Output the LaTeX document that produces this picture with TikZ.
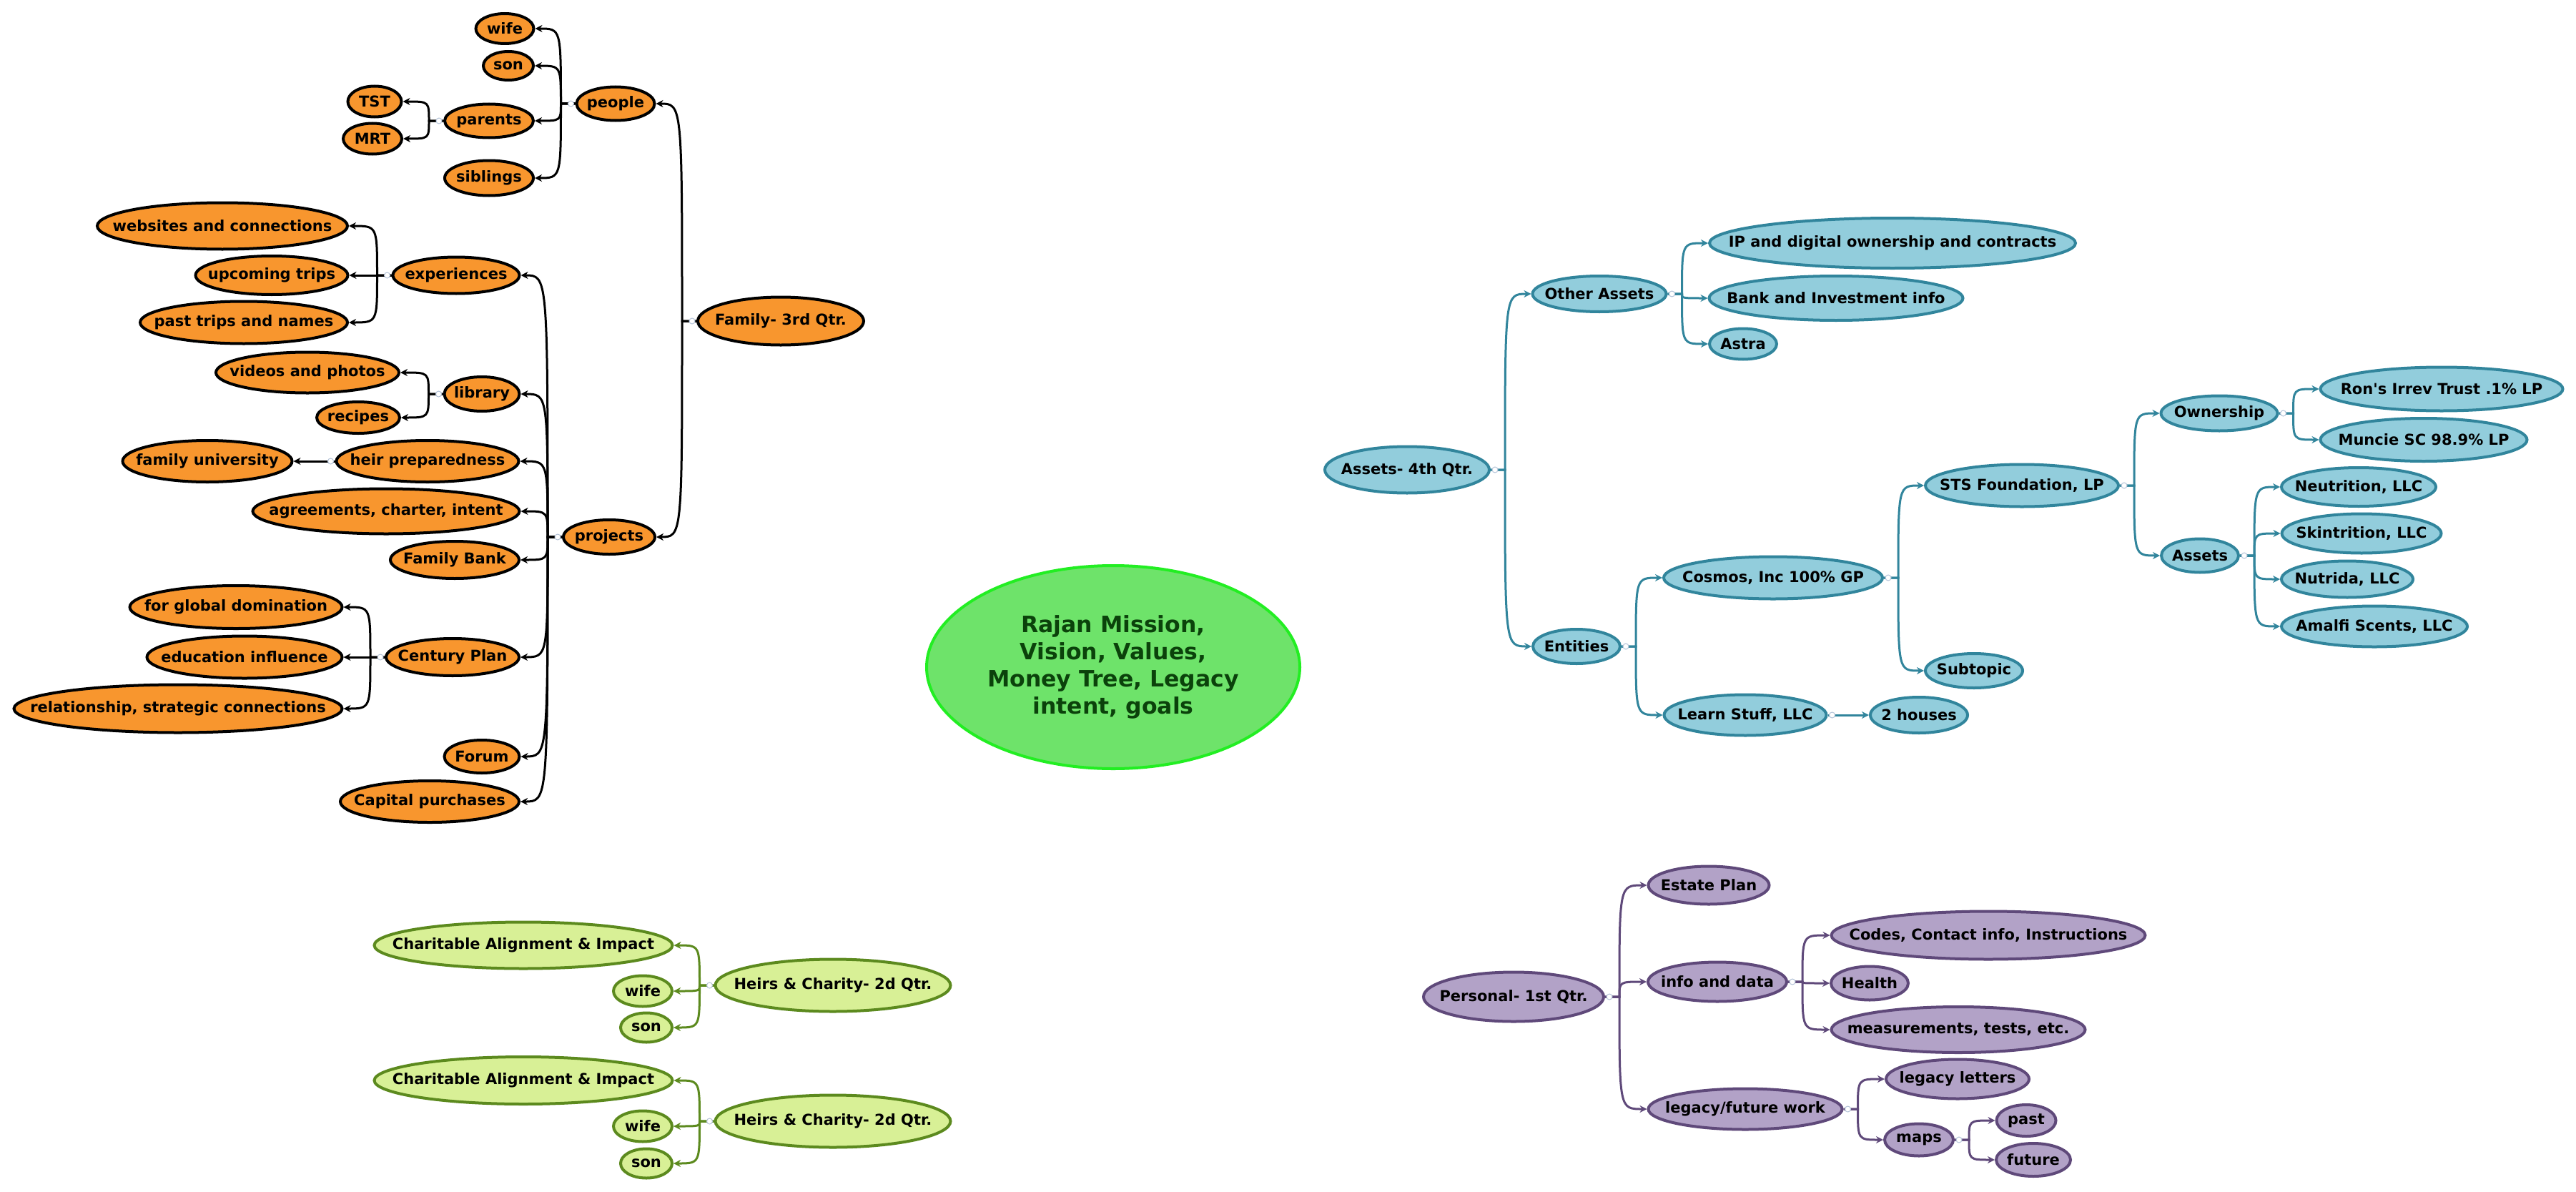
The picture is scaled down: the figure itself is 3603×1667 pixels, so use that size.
\documentclass[tikz,border=0pt]{standalone}
\usepackage{fontspec}
\setmainfont{DejaVu Sans}
\usetikzlibrary{shapes.geometric,arrows.meta}
\definecolor{orfill}{HTML}{F8962E}
\definecolor{blfill}{HTML}{92CDDC}
\definecolor{blline}{HTML}{31859C}
\definecolor{grfill}{HTML}{D8F096}
\definecolor{grline}{HTML}{5C8A1E}
\definecolor{pufill}{HTML}{B2A2C7}
\definecolor{puline}{HTML}{5F497A}
\definecolor{cefill}{HTML}{6EE36A}
\definecolor{celine}{HTML}{22EE22}
\definecolor{cetext}{HTML}{0B420B}
\definecolor{mkline}{HTML}{B4C3D8}
\tikzset{
 topic/.style={shape=ellipse, inner xsep=-400pt, inner ysep=-60pt, line width=4pt,
   font=\fontsize{21}{25}\selectfont\bfseries, text=black},
 orangebox/.style={topic, draw=black, fill=orfill},
 bluebox/.style={topic, draw=blline, fill=blfill},
 greenbox/.style={topic, draw=grline, fill=grfill},
 purplebox/.style={topic, draw=puline, fill=pufill},
 centerbox/.style={shape=ellipse, inner xsep=-400pt, inner ysep=-100pt, line width=4pt,
   draw=celine, fill=cefill, text=cetext, align=center,
   font=\fontsize{31.5}{38}\selectfont\bfseries},
 conn/.style={line width=3pt, -{Stealth[length=10pt,width=10pt]}},
 blackconn/.style={conn, draw=black},
 blueconn/.style={conn, draw=blline},
 greenconn/.style={conn, draw=grline},
 purpleconn/.style={conn, draw=puline},
 collapser/.style={draw=mkline, fill=white, line width=1pt},
}
% node: style, name, position, width, height, text
\newcommand\tp[6]{\node[#1,minimum width=#4pt-4pt,minimum height=#5pt-4pt] (#2) at (#3) {#6};}
% connector towards the left: style, parent, child
\newcommand\lnL[3]{\draw[#1] (#2.west) -- ++(-20pt,0pt) coordinate (sp)
  .. controls (sp |- #3.east) and (sp |- #3.east) .. (#3.east);}
% connector towards the right
\newcommand\lnR[3]{\draw[#1] (#2.east) -- ++(20pt,0pt) coordinate (sp)
  .. controls (sp |- #3.west) and (sp |- #3.west) .. (#3.west);}
\newcommand\mkL[1]{\draw[collapser] ([xshift=-6pt]#1.west) circle[radius=4pt];}
\newcommand\mkR[1]{\draw[collapser] ([xshift=6pt]#1.east) circle[radius=4pt];}
\begin{document}
\begin{tikzpicture}[x=1pt,y=-1pt]
\fill[white] (0,0) rectangle (3603,1667);
\useasboundingbox (0,0) rectangle (3603,1667);

% ---------- centre ----------
\tp{centerbox}{center}{1557,933}{526}{288}{Rajan Mission,\\Vision, Values,\\Money Tree, Legacy\\intent, goals}

% ---------- Family (orange) ----------
\tp{orangebox}{fam}{1092,449}{236}{71}{Family- 3rd Qtr.}
\tp{orangebox}{people}{861,145}{113}{51}{people}
\tp{orangebox}{wifeA}{706,40}{85}{46}{wife}
\tp{orangebox}{sonA}{711,92}{74}{44}{son}
\tp{orangebox}{parents}{684,169}{128}{51}{parents}
\tp{orangebox}{siblings}{684,249}{128}{53}{siblings}
\tp{orangebox}{tst}{524,142}{79}{47}{TST}
\tp{orangebox}{mrt}{521,194}{86}{47}{MRT}
\tp{orangebox}{projects}{852,751}{132}{52}{projects}
\tp{orangebox}{exper}{638,385}{181}{55}{experiences}
\tp{orangebox}{websites}{311,316}{354}{69}{websites and connections}
\tp{orangebox}{upcoming}{380,385}{217}{58}{upcoming trips}
\tp{orangebox}{pasttrips}{341,451}{294}{63}{past trips and names}
\tp{orangebox}{library}{674,551}{109}{52}{library}
\tp{orangebox}{videos}{430,521}{260}{61}{videos and photos}
\tp{orangebox}{recipes}{501,584}{120}{48}{recipes}
\tp{orangebox}{heirprep}{598,645}{259}{62}{heir preparedness}
\tp{orangebox}{famuniv}{290,645}{241}{62}{family university}
\tp{orangebox}{agree}{540,715}{377}{67}{agreements, charter, intent}
\tp{orangebox}{fambank}{636,783}{184}{56}{Family Bank}
\tp{orangebox}{century}{633,919}{190}{56}{Century Plan}
\tp{orangebox}{global}{330,849}{301}{64}{for global domination}
\tp{orangebox}{educ}{342,919}{277}{63}{education influence}
\tp{orangebox}{relation}{249,991}{463}{71}{relationship, strategic connections}
\tp{orangebox}{forum}{674,1058}{109}{50}{Forum}
\tp{orangebox}{capital}{601,1121}{254}{62}{Capital purchases}

\lnL{blackconn}{fam}{people}
\lnL{blackconn}{fam}{projects}
\lnL{blackconn}{people}{wifeA}
\lnL{blackconn}{people}{sonA}
\lnL{blackconn}{people}{parents}
\lnL{blackconn}{people}{siblings}
\lnL{blackconn}{parents}{tst}
\lnL{blackconn}{parents}{mrt}
\lnL{blackconn}{projects}{exper}
\lnL{blackconn}{projects}{library}
\lnL{blackconn}{projects}{heirprep}
\lnL{blackconn}{projects}{agree}
\lnL{blackconn}{projects}{fambank}
\lnL{blackconn}{projects}{century}
\lnL{blackconn}{projects}{forum}
\lnL{blackconn}{projects}{capital}
\lnL{blackconn}{exper}{websites}
\lnL{blackconn}{exper}{upcoming}
\lnL{blackconn}{exper}{pasttrips}
\lnL{blackconn}{library}{videos}
\lnL{blackconn}{library}{recipes}
\lnL{blackconn}{heirprep}{famuniv}
\lnL{blackconn}{century}{global}
\lnL{blackconn}{century}{educ}
\lnL{blackconn}{century}{relation}
\mkL{fam}\mkL{people}\mkL{parents}\mkL{projects}\mkL{exper}\mkL{library}\mkL{heirprep}\mkL{century}

% ---------- Assets (blue) ----------
\tp{bluebox}{assets4}{1968,657}{234}{69}{Assets- 4th Qtr.}
\tp{bluebox}{other}{2237,411}{191}{54}{Other Assets}
\tp{bluebox}{ip}{2647,340}{516}{74}{IP and digital ownership and contracts}
\tp{bluebox}{bank}{2568,417}{359}{66}{Bank and Investment info}
\tp{bluebox}{astra}{2438,481}{98}{47}{Astra}
\tp{bluebox}{entities}{2205,904}{126}{52}{Entities}
\tp{bluebox}{cosmos}{2480,808}{310}{63}{Cosmos, Inc 100\% GP}
\tp{bluebox}{learn}{2441,1000}{231}{61}{Learn Stuff, LLC}
\tp{bluebox}{houses}{2684,1000}{140}{54}{2 houses}
\tp{bluebox}{sts}{2828,679}{274}{63}{STS Foundation, LP}
\tp{bluebox}{subtopic}{2761,938}{140}{52}{Subtopic}
\tp{bluebox}{ownership}{3104,578}{167}{53}{Ownership}
\tp{bluebox}{assetsB}{3077,777}{112}{51}{Assets}
\tp{bluebox}{rons}{3415,544}{343}{65}{Ron\textquotesingle s Irrev Trust .1\% LP}
\tp{bluebox}{muncie}{3390,615}{293}{64}{Muncie SC 98.9\% LP}
\tp{bluebox}{neut}{3299,681}{220}{58}{Neutrition, LLC}
\tp{bluebox}{skin}{3303,746}{227}{59}{Skintrition, LLC}
\tp{bluebox}{nutrida}{3283,810}{188}{55}{Nutrida, LLC}
\tp{bluebox}{amalfi}{3321,876}{264}{61}{Amalfi Scents, LLC}

\lnR{blueconn}{assets4}{other}
\lnR{blueconn}{assets4}{entities}
\lnR{blueconn}{other}{ip}
\lnR{blueconn}{other}{bank}
\lnR{blueconn}{other}{astra}
\lnR{blueconn}{entities}{cosmos}
\lnR{blueconn}{entities}{learn}
\lnR{blueconn}{cosmos}{sts}
\lnR{blueconn}{cosmos}{subtopic}
\lnR{blueconn}{learn}{houses}
\lnR{blueconn}{sts}{ownership}
\lnR{blueconn}{sts}{assetsB}
\lnR{blueconn}{ownership}{rons}
\lnR{blueconn}{ownership}{muncie}
\lnR{blueconn}{assetsB}{neut}
\lnR{blueconn}{assetsB}{skin}
\lnR{blueconn}{assetsB}{nutrida}
\lnR{blueconn}{assetsB}{amalfi}
\mkR{assets4}\mkR{other}\mkR{entities}\mkR{cosmos}\mkR{learn}\mkR{sts}\mkR{ownership}\mkR{assetsB}

% ---------- Heirs & Charity (green) ----------
\tp{greenbox}{heirsA}{1165,1378}{333}{77}{Heirs \& Charity- 2d Qtr.}
\tp{greenbox}{charA}{732,1322}{421}{69}{Charitable Alignment \& Impact}
\tp{greenbox}{wifeG1}{899,1386}{86}{47}{wife}
\tp{greenbox}{sonG1}{904,1437}{76}{45}{son}
\tp{greenbox}{heirsB}{1165,1568}{333}{77}{Heirs \& Charity- 2d Qtr.}
\tp{greenbox}{charB}{732,1511}{421}{70}{Charitable Alignment \& Impact}
\tp{greenbox}{wifeG2}{899,1575}{86}{47}{wife}
\tp{greenbox}{sonG2}{904,1627}{76}{45}{son}

\lnL{greenconn}{heirsA}{charA}
\lnL{greenconn}{heirsA}{wifeG1}
\lnL{greenconn}{heirsA}{sonG1}
\lnL{greenconn}{heirsB}{charB}
\lnL{greenconn}{heirsB}{wifeG2}
\lnL{greenconn}{heirsB}{sonG2}
\mkL{heirsA}\mkL{heirsB}

% ---------- Personal (purple) ----------
\tp{purplebox}{personal}{2117,1394}{256}{73}{Personal- 1st Qtr.}
\tp{purplebox}{estate}{2390,1238}{173}{57}{Estate Plan}
\tp{purplebox}{info}{2402,1373}{198}{59}{info and data}
\tp{purplebox}{legacy}{2441,1551}{275}{61}{legacy/future work}
\tp{purplebox}{codes}{2781,1308}{443}{71}{Codes, Contact info, Instructions}
\tp{purplebox}{health}{2615,1375}{112}{51}{Health}
\tp{purplebox}{measure}{2739,1440}{359}{68}{measurements, tests, etc.}
\tp{purplebox}{letters}{2738,1509}{204}{59}{legacy letters}
\tp{purplebox}{maps}{2684,1594}{100}{49}{maps}
\tp{purplebox}{past}{2834,1567}{87}{48}{past}
\tp{purplebox}{future}{2844,1622}{108}{50}{future}

\lnR{purpleconn}{personal}{estate}
\lnR{purpleconn}{personal}{info}
\lnR{purpleconn}{personal}{legacy}
\lnR{purpleconn}{info}{codes}
\lnR{purpleconn}{info}{health}
\lnR{purpleconn}{info}{measure}
\lnR{purpleconn}{legacy}{letters}
\lnR{purpleconn}{legacy}{maps}
\lnR{purpleconn}{maps}{past}
\lnR{purpleconn}{maps}{future}
\mkR{personal}\mkR{info}\mkR{legacy}\mkR{maps}
\end{tikzpicture}
\end{document}
